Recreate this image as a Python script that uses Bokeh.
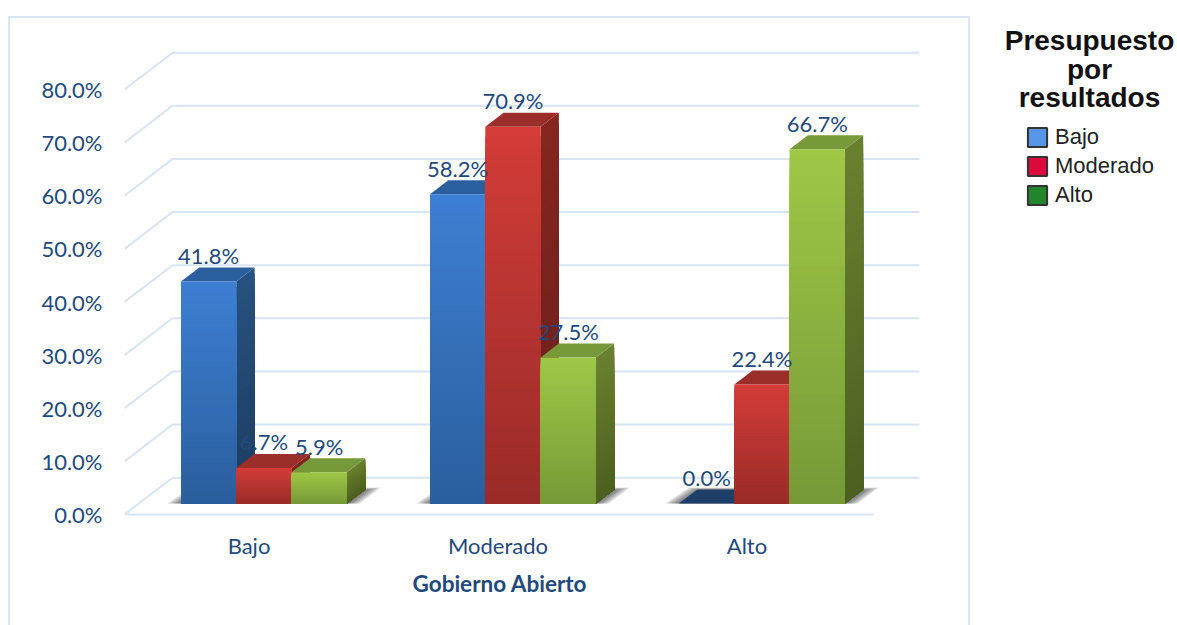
import numpy as np
from bokeh.core.properties import value
from bokeh.embed import file_html
from bokeh.models import FixedTicker, Legend, LegendItem, LinearAxis, Range1d, Title
from bokeh.plotting import figure
from bokeh.resources import INLINE

# ---- data ----
categories = ["Bajo", "Moderado", "Alto"]
series_names = ["Bajo", "Moderado", "Alto"]
bajo = [41.8, 58.2, 0.0]
moderado = [6.7, 70.9, 22.4]
alto = [5.9, 27.5, 66.7]
y_ticks = [0, 10, 20, 30, 40, 50, 60, 70, 80]
x_title = "Gobierno Abierto"
legend_title = ["Presupuesto", "por", "resultados"]

# ---- styling ----
TEXT = "#1F497D"
GRID = "#D7E4F4"
front_cols = [("#3D7FD3", "#2A5E9C"), ("#D33C38", "#982B28"), ("#9EC746", "#779837")]
side_cols = [("#27527F", "#1C3C60"), ("#84261F", "#6A1E1B"), ("#69812F", "#4B5F1F")]
top_cols = ["#2B5F9E", "#9B2D2A", "#77993A"]
ZERO_TOP = "#1E3F69"
legend_cols = ["#5796E6", "#DC0A3C", "#23852B"]
FONT = "Lato"
SIZE = "22px"

# pixel scale of the plot frame
PX_X = 249.0       # px per category
PX_Y = 5.3125      # px per percentage point
FRAME_W, FRAME_H = 1053, 506
X0 = -0.5
DX, DY = 1 / PX_X, 1 / PX_Y

panel_css = {
    "background-image": ", ".join([f"linear-gradient({GRID},{GRID})"] * 3),
    "background-size": "960px 2px, 2px 640px, 2px 640px",
    "background-position": "9px 16px, 8px 16px, 968px 16px",
    "background-repeat": "no-repeat",
}

p = figure(width=1177, height=625, output_backend="svg", toolbar_location=None,
           x_range=Range1d(X0, X0 + FRAME_W * DX), y_range=Range1d(0, FRAME_H * DY),
           min_border_left=124, min_border_right=0, min_border_top=8, min_border_bottom=111,
           x_axis_location=None, y_axis_location=None, outline_line_color=None,
           background_fill_color=None, border_fill_color=None, styles=panel_css)
p.grid.visible = False

# axes
yaxis = LinearAxis(ticker=FixedTicker(ticks=y_ticks), axis_line_color=None, major_tick_line_color=None,
                   minor_tick_line_color=None, major_label_standoff=16,
                   major_label_overrides={t: f"{t:.1f}%" for t in y_ticks},
                   major_label_text_font=FONT, major_label_text_font_size=SIZE, major_label_text_color=TEXT)
p.add_layout(yaxis, "left")
xaxis = LinearAxis(ticker=FixedTicker(ticks=[0, 1, 2]), bounds=(-0.5, 2.51), axis_line_color=GRID, axis_line_width=2,
                   major_tick_line_color=None, minor_tick_line_color=None, major_label_standoff=11,
                   major_label_overrides={i: c for i, c in enumerate(categories)},
                   major_label_text_font=FONT, major_label_text_font_size=SIZE, major_label_text_color=TEXT)
p.add_layout(xaxis, "below")
p.add_layout(Title(text=x_title, align="left", offset=288, standoff=12, text_font=FONT, text_font_style="bold",
                   text_font_size="22.5px", text_color=TEXT), "below")

# 3-D wall grid
gdx, gdy = 48 * DX, 36.8 * DY
p.multi_line([[-0.5, -0.5 + gdx, 2.5 + gdx] for _ in y_ticks], [[t, t + gdy, t + gdy] for t in y_ticks],
             line_color=GRID, line_width=2)

BASE = 11 * DY
bdx, bdy = 18.3 * DX, 14 * DY
BAR_W = 55.3 * DX
GROUP_L = -68 * DX
STRIPS = 40


def mix(c0, c1, t):
    a = np.array([int(c0[i:i + 2], 16) for i in (1, 3, 5)], float)
    b = np.array([int(c1[i:i + 2], 16) for i in (1, 3, 5)], float)
    r = a + (b - a) * t
    return "#%02x%02x%02x" % tuple(int(round(v)) for v in r)


# soft shadows below each group
for g in range(len(categories)):
    x0 = g + GROUP_L
    x1 = x0 + 3 * BAR_W
    for k in range(8):
        t = (7 - k) / 7
        xs = [x0 - 14 * t * DX, x0 + (20 - 10 * t) * DX, x1 + (18 + 16 * t) * DX, x1 + 13 * t * DX]
        ys = [BASE, BASE + (13 + 3 * t) * DY, BASE + (13 + 3 * t) * DY, BASE]
        p.patch(xs, ys, fill_color="#333333", fill_alpha=0.13, line_color=None)

# bars, drawn left to right so that each covers the side of the previous one
for g in range(len(categories)):
    for s, vals in enumerate([bajo, moderado, alto]):
        v = vals[g]
        left = g + GROUP_L + s * BAR_W
        right = left + BAR_W
        top = BASE + v
        frac = np.linspace(0, 1, STRIPS)
        tops = top - frac * v
        if v > 0:
            # side face
            p.patches([[right, right + bdx, right + bdx, right] for _ in tops],
                      [[t, t + bdy, BASE + bdy, BASE] for t in tops],
                      fill_color=[mix(*side_cols[s], f) for f in frac], line_color=None)
        # top face
        p.patch([left, left + bdx, right + bdx, right], [top, top + bdy, top + bdy, top],
                fill_color=top_cols[s] if v > 0 else ZERO_TOP, line_color=None)
        if v > 0:
            # front face
            p.quad(left=left, right=right, top=tops, bottom=BASE,
                   fill_color=[mix(*front_cols[s], f) for f in frac], line_color=None)

# data labels
lx, ly, lt = [], [], []
for g in range(len(categories)):
    for s, vals in enumerate([bajo, moderado, alto]):
        lx.append(g + GROUP_L + (s + 0.5) * BAR_W)
        ly.append(BASE + vals[g] + 26 * DY)
        lt.append(f"{vals[g]:.1f}%")
p.text(lx, ly, text=lt, text_font=value(FONT), text_font_size=SIZE, text_color=TEXT,
       text_align="center", text_baseline="middle")

# legend title
p.text([X0 + (1089 - 124) * DX] * 3, [(514 - y) * DY for y in (40, 68.5, 97)], text=legend_title,
       text_font=value("Liberation Sans"), text_font_style="bold", text_font_size="28px",
       text_color="#111111", text_align="center", text_baseline="middle")

# legend
items = []
nan = float("nan")
for name, col in zip(series_names, legend_cols):
    r = p.quad(left=[nan], right=[nan], top=[nan], bottom=[nan], fill_color=col, line_color="#333333", line_width=2)
    items.append(LegendItem(label=name, renderers=[r]))
legend = Legend(items=items, location=(901, 306), background_fill_alpha=0, border_line_color=None,
                padding=0, margin=0, glyph_width=24, glyph_height=24, spacing=3, label_standoff=6,
                label_text_font="Liberation Sans", label_text_font_size="22px", label_text_color="#222222")
p.add_layout(legend)

open("out.html", "w").write(file_html(p, INLINE))
